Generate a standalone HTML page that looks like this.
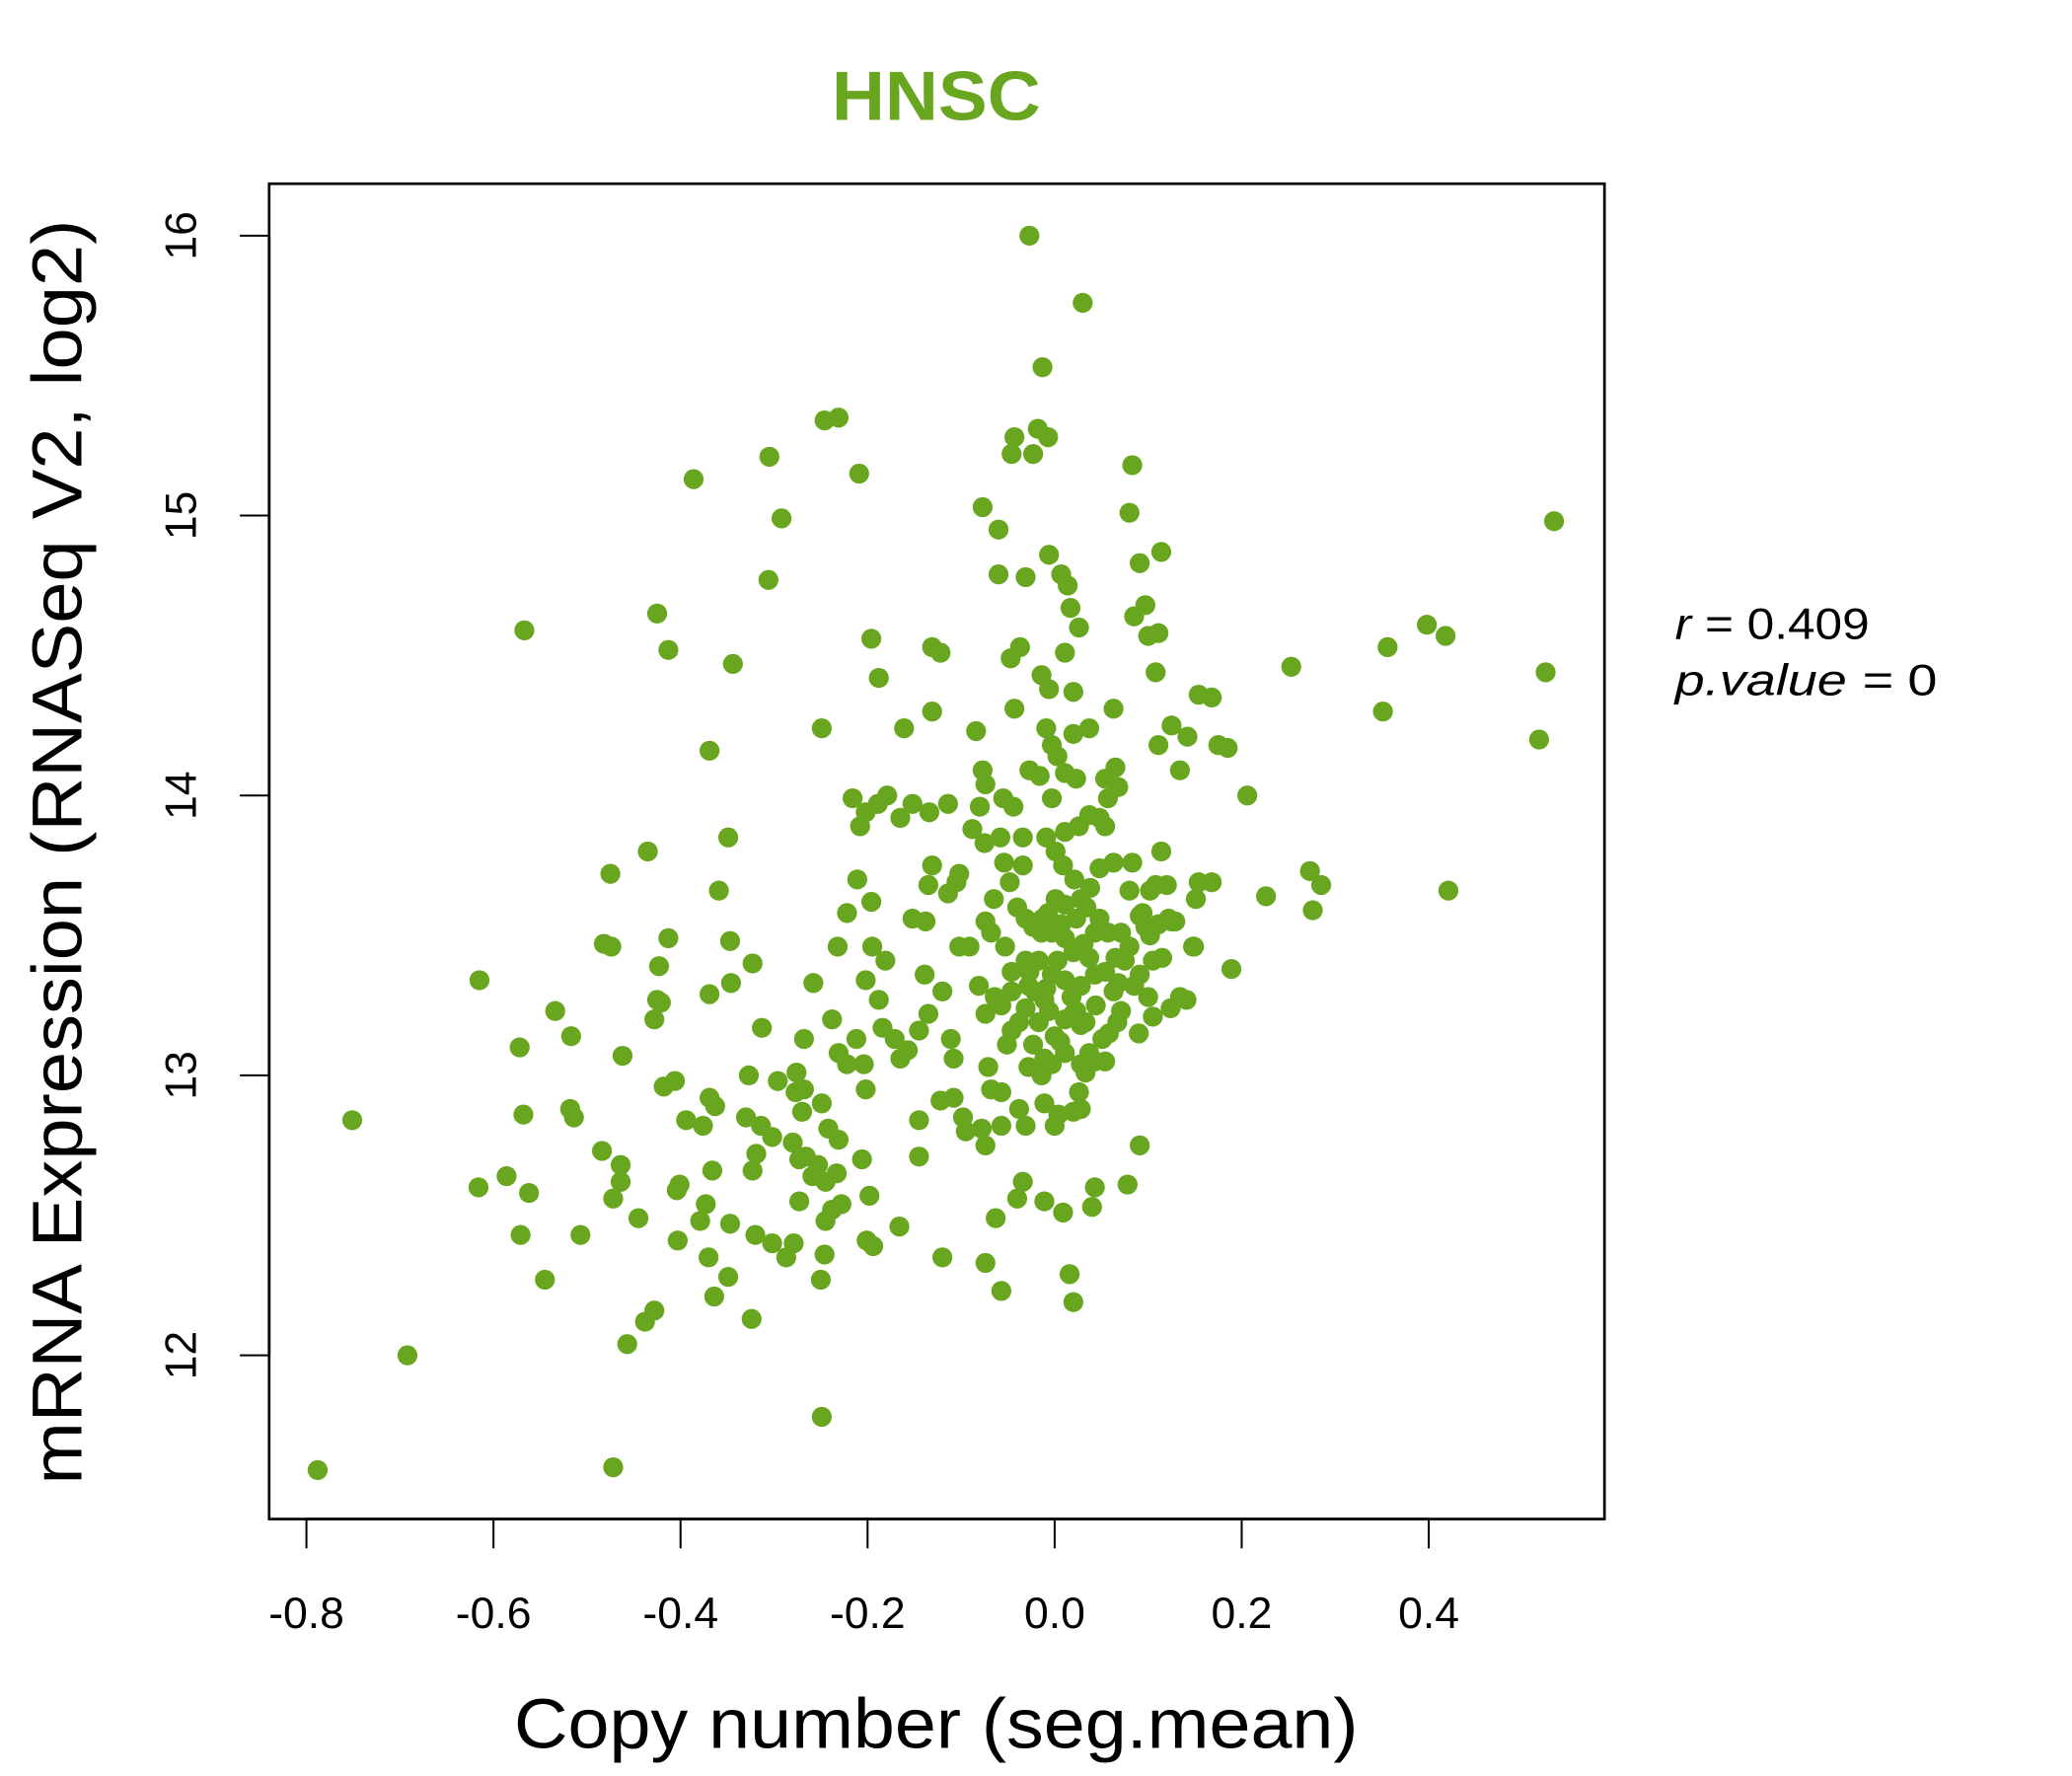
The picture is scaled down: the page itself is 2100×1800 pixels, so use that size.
<!DOCTYPE html>
<html><head><meta charset="utf-8"><title>HNSC</title>
<style>html,body{margin:0;padding:0;background:#fff}svg{display:block}text{font-family:"Liberation Sans",sans-serif}</style>
</head><body>
<svg id="chart" width="2100" height="1800" viewBox="0 0 1556 1334" xmlns="http://www.w3.org/2000/svg">
<rect x="0" y="0" width="1556" height="1334" fill="#fff"/>
<text x="703" y="90" text-anchor="middle" font-size="52" font-weight="bold" fill="#68A620" textLength="157" lengthAdjust="spacingAndGlyphs">HNSC</text>
<g id="points"></g>
<rect x="202" y="138" width="1003" height="1003" fill="none" stroke="#000" stroke-width="2"/>
<g id="xaxis"></g>
<g id="yaxis"></g>
<text x="703" y="1313" text-anchor="middle" font-size="53" textLength="634" lengthAdjust="spacingAndGlyphs">Copy number (seg.mean)</text>
<text transform="translate(61,640) rotate(-90)" text-anchor="middle" font-size="53" textLength="950" lengthAdjust="spacingAndGlyphs">mRNA Expression (RNASeq V2, log2)</text>
<text x="1258" y="480" font-size="33" textLength="146" lengthAdjust="spacingAndGlyphs"><tspan font-style="italic">r</tspan> = 0.409</text>
<text x="1258" y="522" font-size="33" font-style="italic" textLength="197" lengthAdjust="spacingAndGlyphs">p.value = <tspan font-style="normal">0</tspan></text>
</svg>
<script>
const xTicks = [-0.8,-0.6,-0.4,-0.2,0.0,0.2,0.4];
const xTickLabels = ["-0.8","-0.6","-0.4","-0.2","0.0","0.2","0.4"];
const yTicks = [12,13,14,15,16];
const yTickLabels = ["12","13","14","15","16"];
const copyNumber = [-0.788,-0.472,-0.249,-0.692,-0.457,-0.428,-0.438,0.020,-0.057,0.016,-0.250,-0.349,-0.324,-0.364,-0.074,-0.120,-0.246,-0.370,-0.403,-0.507,-0.571,-0.545,-0.445,-0.379,-0.347,-0.320,-0.302,-0.287,-0.279,-0.245,-0.228,-0.201,-0.166,-0.194,-0.063,-0.040,-0.034,-0.011,0.009,0.043,0.040,0.078,-0.198,-0.238,-0.273,-0.245,-0.259,-0.233,-0.273,-0.280,-0.266,-0.323,-0.366,-0.373,-0.401,-0.404,-0.472,-0.464,-0.464,-0.484,-0.586,-0.616,-0.562,-0.568,-0.518,-0.514,-0.751,-0.572,-0.462,-0.517,-0.534,-0.615,-0.428,-0.425,-0.421,-0.423,-0.413,-0.474,-0.482,-0.475,-0.435,-0.369,-0.347,-0.346,-0.359,-0.349,-0.323,-0.313,-0.327,-0.314,-0.302,-0.319,-0.330,-0.406,-0.418,-0.394,-0.376,-0.369,-0.363,-0.296,-0.276,-0.277,-0.268,-0.249,-0.270,-0.242,-0.253,-0.231,-0.206,-0.222,-0.204,-0.202,-0.231,-0.212,-0.184,-0.171,-0.268,-0.258,-0.238,-0.232,-0.222,-0.196,-0.211,-0.195,-0.202,-0.188,-0.181,-0.165,-0.157,-0.145,-0.139,-0.135,-0.120,-0.111,-0.108,-0.145,-0.145,-0.122,-0.108,-0.098,-0.095,-0.078,-0.074,-0.057,-0.057,-0.038,-0.031,-0.028,-0.071,-0.068,-0.051,-0.046,-0.074,-0.081,-0.064,-0.046,-0.031,-0.053,-0.068,-0.091,-0.102,-0.105,-0.114,-0.135,-0.152,-0.138,-0.131,-0.134,-0.152,-0.114,-0.165,-0.179,-0.189,-0.202,-0.216,-0.208,-0.161,-0.188,-0.196,-0.131,-0.122,-0.131,-0.084,-0.077,-0.074,-0.080,-0.055,-0.044,-0.075,-0.058,-0.034,-0.054,-0.048,-0.034,-0.088,-0.102,-0.074,-0.065,-0.040,-0.031,-0.023,-0.013,-0.003,0.007,0.011,0.020,0.031,0.037,0.043,0.048,0.057,0.065,0.071,0.080,0.097,0.091,0.102,0.111,0.122,0.129,0.149,0.115,0.105,0.091,0.085,0.075,0.063,0.071,0.067,0.058,0.051,0.037,0.028,0.043,0.033,0.054,0.026,0.028,0.020,0.000,0.004,-0.011,-0.014,-0.023,-0.017,-0.011,-0.009,-0.003,0.003,-0.017,-0.027,-0.021,-0.006,0.011,0.023,0.018,0.011,0.028,0.043,0.054,0.044,0.033,0.006,0.000,0.011,-0.003,-0.011,-0.031,-0.038,-0.057,-0.028,-0.046,-0.014,-0.007,0.001,0.011,0.023,0.028,0.034,0.048,0.038,0.021,0.009,0.001,-0.009,0.011,0.026,0.037,0.048,0.057,0.068,0.065,0.054,0.054,0.063,0.083,0.080,0.094,0.102,0.108,0.114,0.120,0.125,0.134,0.141,0.148,0.151,0.154,0.168,0.189,0.226,0.273,0.276,0.285,0.421,0.111,0.125,0.134,0.142,0.154,0.168,0.175,0.185,0.206,0.253,0.351,0.356,0.398,0.418,0.518,0.525,0.534,0.091,0.020,0.028,0.100,0.105,0.124,0.090,0.068,0.108,0.111,0.097,0.085,0.091,0.114,0.100,0.080,0.083,0.063,0.037,0.020,0.011,0.026,0.017,0.014,0.007,-0.006,-0.031,-0.060,-0.060,-0.077,-0.037,-0.047,-0.014,-0.006,-0.043,-0.009,-0.003,0.003,-0.027,-0.016,-0.003,0.011,0.023,0.020,-0.046,-0.043,-0.023,-0.018,-0.007,-0.013,-0.027,0.030,-0.231,-0.246,-0.305,-0.292,-0.306,-0.386,-0.209,-0.425,-0.413,-0.344,-0.369,-0.249,-0.567];
const expression = [11.59,11.60,11.78,12.00,12.04,12.16,12.12,12.19,12.23,12.29,12.27,12.28,12.13,12.21,12.33,12.35,12.36,12.35,12.41,12.43,12.43,12.27,12.49,12.48,12.47,12.43,12.40,12.35,12.40,12.48,12.54,12.41,12.46,12.39,12.49,12.56,12.62,12.55,12.51,12.60,12.53,12.61,12.57,12.52,12.55,12.62,12.64,12.65,12.70,12.76,12.71,12.66,12.66,12.54,12.61,12.59,12.56,12.62,12.68,12.73,12.64,12.60,12.58,12.86,12.88,12.85,12.84,13.10,13.07,13.14,13.23,13.34,13.20,13.27,13.26,13.39,13.49,13.46,13.47,13.72,13.80,13.29,13.48,13.33,13.66,13.85,13.40,13.17,13.00,12.82,12.78,12.72,12.85,12.98,12.96,12.84,12.82,12.92,12.89,12.98,13.01,12.94,12.95,12.90,12.87,12.81,12.68,12.77,12.70,13.04,13.04,12.95,13.08,13.13,13.17,13.13,13.13,13.33,13.20,13.46,13.58,13.62,13.70,13.46,13.34,13.27,13.41,13.06,13.09,13.16,13.36,13.22,13.30,13.13,13.06,12.84,12.71,12.91,12.92,12.85,12.80,12.81,12.75,12.82,12.94,12.88,12.82,13.03,13.03,12.95,13.11,13.16,13.22,13.32,13.28,13.37,13.41,13.46,13.51,13.46,13.46,13.69,13.65,13.68,13.56,13.55,13.75,13.94,13.97,13.97,13.92,14.00,13.97,13.94,13.99,13.89,14.24,14.42,14.56,14.53,14.51,14.30,14.23,14.09,14.04,13.96,13.99,13.96,13.83,13.85,13.85,13.76,13.69,13.75,13.88,13.72,13.55,13.63,13.60,13.56,13.53,13.56,13.51,13.54,13.49,13.44,13.47,13.42,13.51,13.56,13.51,13.42,13.51,13.46,13.53,13.57,13.50,13.54,13.56,13.55,13.46,13.42,13.41,13.36,13.32,13.41,13.30,13.23,13.19,13.15,13.13,13.08,13.04,13.05,13.01,13.05,12.94,12.88,12.87,12.82,12.86,12.90,13.00,13.11,13.19,13.27,13.31,13.36,13.41,13.41,13.37,13.30,13.23,13.20,13.23,13.28,13.34,13.32,13.36,13.37,13.25,13.19,13.12,13.14,13.08,13.04,13.06,13.24,13.19,13.25,13.32,13.30,13.51,13.58,13.63,13.61,13.56,13.63,13.60,13.74,13.67,13.70,13.75,13.80,13.85,13.87,13.89,13.93,13.92,13.99,14.03,14.10,14.06,13.89,13.76,13.76,13.66,13.58,13.66,13.68,13.80,13.68,13.55,13.28,13.27,13.46,13.63,13.69,13.69,13.38,13.64,13.73,13.59,13.68,13.66,14.18,14.25,14.09,14.21,14.36,14.35,14.18,14.17,14.00,14.46,14.30,14.53,14.61,14.57,14.20,14.44,14.98,12.75,13.22,13.18,13.28,13.21,13.24,13.15,13.33,14.44,14.58,14.68,14.64,14.83,14.87,14.57,15.01,15.18,14.31,14.24,14.37,14.51,14.60,14.67,14.75,14.79,14.86,14.78,14.79,14.95,15.03,14.53,14.49,14.43,14.38,14.31,14.24,14.18,14.14,14.09,14.07,13.99,14.08,14.06,14.22,15.22,15.28,15.22,15.31,15.28,15.53,16.00,15.76,15.35,15.34,15.21,14.99,14.77,15.13,15.15,14.65,14.52,14.47,14.16,14.24,14.59];

const NS = "http://www.w3.org/2000/svg";
function xScale(v){ return 792 + 702.5 * v; }
function yScale(v){ return 1018 - 210.25 * (v - 12); }

const pg = document.getElementById('points');
for (let i = 0; i < copyNumber.length; i++) {
  const c = document.createElementNS(NS, 'circle');
  c.setAttribute('cx', xScale(copyNumber[i]));
  c.setAttribute('cy', yScale(expression[i]));
  c.setAttribute('r', 7.5);
  c.setAttribute('fill', '#68A620');
  
  
  pg.appendChild(c);
}

const xg = document.getElementById('xaxis');
const xl = document.createElementNS(NS, 'line');
xl.setAttribute('x1', xScale(xTicks[0])); xl.setAttribute('x2', xScale(xTicks[xTicks.length-1]));
xl.setAttribute('y1', 1141); xl.setAttribute('y2', 1141);
xl.setAttribute('stroke', '#000'); xl.setAttribute('stroke-width', 2);


xg.appendChild(xl);
xTicks.forEach((t, i) => {
  const tk = document.createElementNS(NS, 'line');
  tk.setAttribute('x1', xScale(t)); tk.setAttribute('x2', xScale(t));
  tk.setAttribute('y1', 1141); tk.setAttribute('y2', 1163);
  tk.setAttribute('stroke', '#000'); tk.setAttribute('stroke-width', 1.5);
  
  
  xg.appendChild(tk);
  const tx = document.createElementNS(NS, 'text');
  tx.setAttribute('x', xScale(t)); tx.setAttribute('y', 1223);
  tx.setAttribute('text-anchor', 'middle'); tx.setAttribute('font-size', 33);
  tx.textContent = xTickLabels[i];
  
  
  xg.appendChild(tx);
});

const yg = document.getElementById('yaxis');
const yl = document.createElementNS(NS, 'line');
yl.setAttribute('x1', 202); yl.setAttribute('x2', 202);
yl.setAttribute('y1', yScale(yTicks[0])); yl.setAttribute('y2', yScale(yTicks[yTicks.length-1]));
yl.setAttribute('stroke', '#000'); yl.setAttribute('stroke-width', 2);


yg.appendChild(yl);
yTicks.forEach((t, i) => {
  const tk = document.createElementNS(NS, 'line');
  tk.setAttribute('x1', 180); tk.setAttribute('x2', 202);
  tk.setAttribute('y1', yScale(t)); tk.setAttribute('y2', yScale(t));
  tk.setAttribute('stroke', '#000'); tk.setAttribute('stroke-width', 1.5);
  
  
  yg.appendChild(tk);
  const tx = document.createElementNS(NS, 'text');
  tx.setAttribute('transform', 'translate(147,' + yScale(t) + ') rotate(-90)');
  tx.setAttribute('text-anchor', 'middle'); tx.setAttribute('font-size', 33);
  tx.textContent = yTickLabels[i];
  
  
  yg.appendChild(tx);
});
</script>
</body></html>
